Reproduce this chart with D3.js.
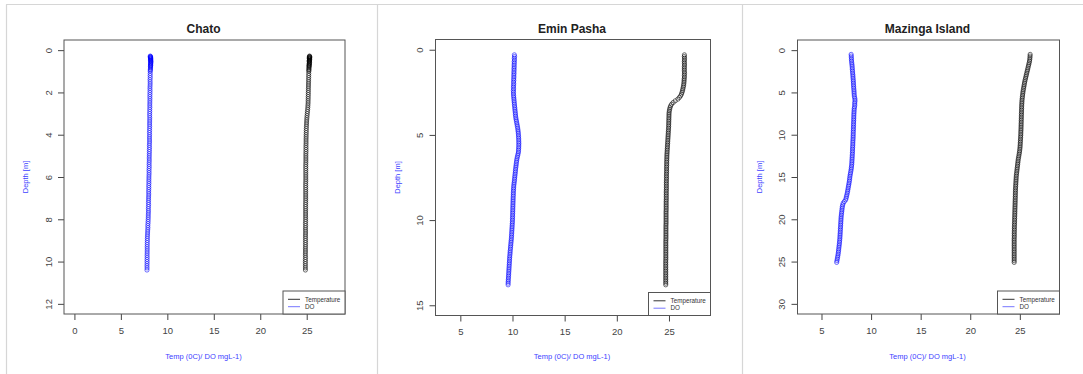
<!DOCTYPE html>
<html>
<head>
<meta charset="utf-8">
<script src="https://cdn.jsdelivr.net/npm/d3@7"></script>
<style>
  html, body { margin: 0; padding: 0; background: #fff; }
  svg { display: block; font-family: "Liberation Sans", Arial, sans-serif; }
</style>
</head>
<body>
<svg id="chart" width="1083" height="374"></svg>
<script>
// ---------------- DATA ----------------
const siteNames = ["Chato", "Emin Pasha", "Mazinga Island"];
const seriesNames = ["Temperature", "DO"];
const xLabel = "Temp (0C)/ DO mgL-1)";
const yLabel = "Depth [m]";

const chatoXTicks = [0, 5, 10, 15, 20, 25];
const chatoYTicks = [0, 2, 4, 6, 8, 10, 12];
const eminXTicks = [5, 10, 15, 20, 25];
const eminYTicks = [0, 5, 10, 15];
const mazingaXTicks = [5, 10, 15, 20, 25];
const mazingaYTicks = [0, 5, 10, 15, 20, 25, 30];

const chatoDepth = [0.28,0.3,0.32,0.34,0.36,0.38,0.4,0.42,0.45,0.48,0.5,0.53,0.56,0.6,0.63,0.66,0.7,0.73,0.76,0.8,0.85,0.9,0.95,1.0,
1.1,1.2,1.3,1.4,1.5,1.6,1.7,1.8,1.9,2.0,
2.1,2.2,2.3,2.4,2.5,2.6,2.7,2.8,2.9,3.0,
3.1,3.2,3.3,3.4,3.5,3.6,3.7,3.8,3.9,4.0,
4.1,4.2,4.3,4.4,4.5,4.6,4.7,4.8,4.9,5.0,
5.1,5.2,5.3,5.4,5.5,5.6,5.7,5.8,5.9,6.0,
6.1,6.2,6.3,6.4,6.5,6.6,6.7,6.8,6.9,7.0,
7.1,7.2,7.3,7.4,7.5,7.6,7.7,7.8,7.9,8.0,
8.1,8.2,8.3,8.4,8.5,8.6,8.7,8.8,8.9,9.0,
9.1,9.2,9.3,9.4,9.5,9.6,9.7,9.8,9.9,10.0,
10.1,10.2,10.3,10.4];
const chatoDO = [8.16,8.18,8.2,8.17,8.21,8.19,8.22,8.18,8.2,8.23,8.19,8.21,8.24,8.2,8.22,8.19,8.21,8.2,8.18,8.2,8.19,8.17,8.18,8.16,
8.16,8.15,8.16,8.14,8.15,8.15,8.14,8.13,8.14,8.13,
8.13,8.12,8.13,8.12,8.12,8.11,8.12,8.11,8.11,8.1,
8.1,8.11,8.1,8.1,8.09,8.1,8.09,8.09,8.08,8.09,
8.08,8.08,8.09,8.08,8.07,8.08,8.07,8.07,8.06,8.06,
8.05,8.06,8.05,8.04,8.05,8.04,8.03,8.04,8.03,8.02,
8.02,8.01,8.02,8.0,8.01,8.0,7.99,8.0,7.99,7.98,
7.98,7.97,7.98,7.97,7.96,7.97,7.96,7.95,7.95,7.94,
7.93,7.92,7.9,7.91,7.89,7.88,7.87,7.86,7.85,7.85,
7.84,7.84,7.83,7.84,7.83,7.83,7.82,7.83,7.82,7.82,
7.82,7.81,7.82,7.81];
const chatoTemp = [25.3,25.32,25.28,25.33,25.3,25.27,25.31,25.29,25.32,25.28,25.3,25.26,25.29,25.31,25.27,25.28,25.25,25.27,25.26,25.24,25.25,25.23,25.24,25.22,
25.22,25.21,25.21,25.2,25.2,25.19,25.19,25.18,25.18,25.17,
25.17,25.16,25.16,25.15,25.15,25.13,25.12,25.1,25.08,25.06,
25.04,25.02,25.0,24.99,24.98,24.97,24.96,24.95,24.95,24.94,
24.94,24.93,24.93,24.93,24.92,24.92,24.92,24.92,24.91,24.91,
24.91,24.91,24.91,24.9,24.9,24.9,24.9,24.9,24.9,24.9,
24.9,24.9,24.89,24.89,24.89,24.89,24.89,24.89,24.89,24.89,
24.89,24.89,24.88,24.88,24.88,24.88,24.88,24.88,24.88,24.88,
24.88,24.87,24.88,24.87,24.87,24.88,24.87,24.87,24.87,24.87,
24.87,24.87,24.87,24.86,24.87,24.86,24.86,24.87,24.86,24.86,
24.86,24.86,24.86,24.86];

const eminDepth = [0.3,0.4,0.5,0.6,0.7,0.8,0.9,1.0,
1.1,1.2,1.3,1.4,1.5,1.6,1.7,1.8,1.9,2.0,
2.1,2.2,2.3,2.4,2.5,2.6,2.7,2.8,2.9,3.0,
3.1,3.2,3.3,3.4,3.5,3.6,3.7,3.8,3.9,4.0,
4.1,4.2,4.3,4.4,4.5,4.6,4.7,4.8,4.9,5.0,
5.1,5.2,5.3,5.4,5.5,5.6,5.7,5.8,5.9,6.0,
6.1,6.2,6.3,6.4,6.5,6.6,6.7,6.8,6.9,7.0,
7.1,7.2,7.3,7.4,7.5,7.6,7.7,7.8,7.9,8.0,
8.1,8.2,8.3,8.4,8.5,8.6,8.7,8.8,8.9,9.0,
9.1,9.2,9.3,9.4,9.5,9.6,9.7,9.8,9.9,10.0,
10.1,10.2,10.3,10.4,10.5,10.6,10.7,10.8,10.9,11.0,
11.1,11.2,11.3,11.4,11.5,11.6,11.7,11.8,11.9,12.0,
12.1,12.2,12.3,12.4,12.5,12.6,12.7,12.8,12.9,13.0,
13.1,13.2,13.3,13.4,13.5,13.6,13.7,13.8];
const eminDO = [10.18,10.2,10.17,10.19,10.16,10.18,10.15,10.17,
10.14,10.16,10.13,10.15,10.12,10.14,10.11,10.13,10.1,10.12,
10.1,10.09,10.11,10.08,10.1,10.09,10.11,10.12,10.14,10.15,
10.17,10.18,10.2,10.22,10.23,10.25,10.27,10.28,10.3,10.32,
10.35,10.38,10.41,10.44,10.47,10.5,10.52,10.54,10.56,10.57,
10.58,10.59,10.6,10.6,10.61,10.6,10.6,10.59,10.58,10.57,
10.54,10.5,10.46,10.43,10.4,10.38,10.36,10.34,10.32,10.3,
10.28,10.27,10.25,10.23,10.21,10.2,10.18,10.16,10.14,10.12,
10.11,10.1,10.09,10.08,10.08,10.07,10.06,10.06,10.05,10.05,
10.04,10.04,10.03,10.03,10.02,10.02,10.01,10.01,10.0,10.0,
9.99,9.98,9.97,9.96,9.95,9.94,9.93,9.92,9.91,9.9,
9.89,9.87,9.86,9.84,9.83,9.81,9.8,9.78,9.77,9.76,
9.74,9.73,9.72,9.71,9.7,9.69,9.68,9.67,9.66,9.65,
9.64,9.63,9.62,9.61,9.6,9.59,9.58,9.58];
const eminTemp = [26.48,26.47,26.49,26.48,26.47,26.48,26.49,26.47,
26.48,26.47,26.48,26.49,26.47,26.48,26.46,26.45,26.44,26.42,
26.4,26.37,26.33,26.3,26.25,26.2,26.12,26.0,25.85,25.6,
25.4,25.25,25.15,25.1,25.06,25.03,25.01,25.0,25.0,24.99,
24.99,24.98,24.98,24.97,24.97,24.96,24.95,24.94,24.93,24.92,
24.91,24.9,24.89,24.88,24.87,24.86,24.85,24.84,24.83,24.82,
24.81,24.8,24.8,24.79,24.79,24.78,24.78,24.78,24.77,24.77,
24.77,24.77,24.76,24.76,24.76,24.76,24.75,24.75,24.75,24.75,
24.75,24.75,24.74,24.74,24.74,24.74,24.74,24.74,24.73,24.73,
24.73,24.73,24.73,24.73,24.72,24.72,24.72,24.72,24.72,24.72,
24.72,24.72,24.71,24.71,24.71,24.71,24.71,24.71,24.71,24.71,
24.71,24.7,24.7,24.7,24.7,24.7,24.7,24.7,24.7,24.7,
24.7,24.7,24.7,24.69,24.69,24.69,24.69,24.69,24.69,24.69,
24.69,24.69,24.69,24.69,24.69,24.69,24.69,24.69];

const mazingaDepth = [0.5,0.7,0.9,1.1,1.3, 1.5,1.7,1.9,2.1,2.3, 2.5,2.7,2.9,3.1,3.3, 3.5,3.7,3.9,4.1,4.3,
4.5,4.7,4.9,5.1,5.3, 5.5,5.7,5.9,6.1,6.3, 6.5,6.7,6.9,7.1,7.3, 7.5,7.7,7.9,8.1,8.3,
8.5,8.7,8.9,9.1,9.3, 9.5,9.7,9.9,10.1,10.3, 10.5,10.7,10.9,11.1,11.3, 11.5,11.7,11.9,12.1,12.3,
12.5,12.7,12.9,13.1,13.3, 13.5,13.7,13.9,14.1,14.3, 14.5,14.7,14.9,15.1,15.3, 15.5,15.7,15.9,16.1,16.3,
16.5,16.7,16.9,17.1,17.3, 17.5,17.7,17.9,18.1,18.3, 18.5,18.7,18.9,19.1,19.3, 19.5,19.7,19.9,20.1,20.3,
20.5,20.7,20.9,21.1,21.3, 21.5,21.7,21.9,22.1,22.3, 22.5,22.7,22.9,23.1,23.3, 23.5,23.7,23.9,24.1,24.3,
24.5,24.7,24.9,25.1];
const mazingaDO = [7.99,8.0,8.01,8.02,8.03, 8.05,8.07,8.09,8.1,8.11, 8.13,8.14,8.16,8.17,8.18, 8.2,8.21,8.22,8.23,8.24,
8.25,8.27,8.28,8.29,8.3, 8.32,8.36,8.38,8.37,8.34, 8.36,8.33,8.3,8.29,8.28, 8.27,8.26,8.26,8.25,8.25,
8.24,8.23,8.23,8.22,8.22, 8.21,8.2,8.2,8.19,8.19, 8.18,8.17,8.16,8.16,8.15, 8.14,8.13,8.13,8.12,8.11,
8.1,8.09,8.08,8.07,8.06, 8.05,8.03,8.01,7.99,7.96, 7.93,7.9,7.87,7.85,7.83, 7.81,7.78,7.75,7.72,7.69,
7.66,7.63,7.6,7.56,7.52, 7.48,7.44,7.3,7.18,7.14, 7.1,7.08,7.06,7.04,7.02, 7.0,6.98,6.97,6.96,6.95,
6.94,6.93,6.92,6.91,6.9, 6.89,6.88,6.87,6.86,6.85, 6.83,6.82,6.8,6.78,6.76, 6.74,6.72,6.7,6.68,6.65,
6.62,6.59,6.56,6.53];
const mazingaTemp = [26.04,26.03,26.02,26.0,25.98, 25.94,25.9,25.86,25.82,25.78, 25.74,25.7,25.66,25.62,25.58, 25.54,25.5,25.47,25.44,25.41,
25.38,25.35,25.32,25.3,25.28, 25.26,25.24,25.22,25.21,25.2, 25.19,25.18,25.18,25.17,25.17, 25.16,25.16,25.15,25.15,25.14,
25.14,25.13,25.13,25.12,25.12, 25.11,25.1,25.1,25.09,25.08, 25.07,25.06,25.05,25.04,25.03, 25.02,25.0,24.98,24.96,24.93,
24.9,24.87,24.84,24.82,24.8, 24.78,24.76,24.74,24.72,24.7, 24.68,24.66,24.64,24.63,24.62, 24.61,24.6,24.59,24.58,24.57,
24.56,24.56,24.55,24.55,24.54, 24.54,24.53,24.53,24.52,24.52, 24.51,24.51,24.5,24.5,24.49, 24.49,24.48,24.48,24.47,24.47,
24.46,24.46,24.45,24.45,24.45, 24.44,24.44,24.44,24.44,24.43, 24.43,24.43,24.43,24.43,24.43, 24.43,24.43,24.43,24.43,24.43,
24.43,24.43,24.43,24.43];

// ---------------- LAYOUT ----------------
const panels = [
  { title: siteNames[0], depth: chatoDepth, temp: chatoTemp, dox: chatoDO,
    xTicks: chatoXTicks, yTicks: chatoYTicks,
    xDomain: [-1.12, 29.12], yDomain: [-0.48, 12.48],
    box: { l: 64, r: 345, t: 40, b: 314 }, frameX: 6 },
  { title: siteNames[1], depth: eminDepth, temp: eminTemp, dox: eminDO,
    xTicks: eminXTicks, yTicks: eminYTicks,
    xDomain: [2.62, 28.98], yDomain: [-0.6, 15.6],
    box: { l: 435.5, r: 710.5, t: 39.5, b: 315.5 }, frameX: 377 },
  { title: siteNames[2], depth: mazingaDepth, temp: mazingaTemp, dox: mazingaDO,
    xTicks: mazingaXTicks, yTicks: mazingaYTicks,
    xDomain: [2.58, 29.0], yDomain: [-1.2, 31.2],
    box: { l: 797.5, r: 1059.5, t: 40, b: 314 }, frameX: 742 }
];

const colors = { Temperature: "#000000", DO: "#0000ff" };
const labelBlue = "#4040ff";

const svg = d3.select("#chart");

// light frames of the three screenshot panels
const frame = svg.append("g").attr("stroke", "#d6d6d6").attr("stroke-width", 1.2).attr("fill", "none");
frame.append("line").attr("x1", 6).attr("x2", 1083).attr("y1", 4.5).attr("y2", 4.5);
panels.forEach(p => {
  frame.append("line").attr("x1", p.frameX + 0.5).attr("x2", p.frameX + 0.5).attr("y1", 4.5).attr("y2", 374);
});

panels.forEach(p => {
  const g = svg.append("g");
  const x = d3.scaleLinear().domain(p.xDomain).range([p.box.l, p.box.r]);
  const y = d3.scaleLinear().domain(p.yDomain).range([p.box.t, p.box.b]);

  const tempPts = p.depth.map((d, i) => ({ d, v: p.temp[i] }));
  const doPts = p.depth.map((d, i) => ({ d, v: p.dox[i] }));

  g.append("g").selectAll("circle").data(tempPts).join("circle")
    .attr("cx", d => x(d.v)).attr("cy", d => y(d.d)).attr("r", 2.1)
    .attr("fill", "none").attr("stroke", colors.Temperature).attr("stroke-width", 0.75)
    .attr("stroke-opacity", 0.75);
  g.append("g").selectAll("circle").data(doPts).join("circle")
    .attr("cx", d => x(d.v)).attr("cy", d => y(d.d)).attr("r", 2.1)
    .attr("fill", "none").attr("stroke", colors.DO).attr("stroke-width", 0.75)
    .attr("stroke-opacity", 0.75);

  // axes
  const xAxis = g.append("g").attr("transform", `translate(0,${p.box.b})`)
    .call(d3.axisBottom(x).tickValues(p.xTicks).tickSize(6).tickPadding(7).tickFormat(d3.format("d")));
  xAxis.select(".domain").remove();
  xAxis.selectAll("line").attr("stroke", "#444");
  xAxis.selectAll("text").attr("font-size", "9.5px").attr("fill", "#444")
    .attr("font-family", "Liberation Sans, Arial, sans-serif");

  const yAxis = g.append("g").attr("transform", `translate(${p.box.l},0)`)
    .call(d3.axisLeft(y).tickValues(p.yTicks).tickSize(6).tickFormat(d3.format("d")));
  yAxis.select(".domain").remove();
  yAxis.selectAll("line").attr("stroke", "#444");
  yAxis.selectAll("text")
    .attr("x", null).attr("dy", null)
    .attr("transform", "translate(-12.5,0) rotate(-90)")
    .attr("text-anchor", "middle")
    .attr("font-size", "9.5px").attr("fill", "#444")
    .attr("font-family", "Liberation Sans, Arial, sans-serif");

  // box
  g.append("rect").attr("x", p.box.l).attr("y", p.box.t)
    .attr("width", p.box.r - p.box.l).attr("height", p.box.b - p.box.t)
    .attr("fill", "none").attr("stroke", "#555").attr("stroke-width", 1);

  // title
  g.append("text").attr("x", (p.box.l + p.box.r) / 2 - 1).attr("y", 33)
    .attr("text-anchor", "middle").attr("font-weight", "bold").attr("font-size", "12px")
    .attr("fill", "#222").text(p.title);

  // axis labels
  g.append("text").attr("x", (p.box.l + p.box.r) / 2 - 1).attr("y", 359)
    .attr("text-anchor", "middle").attr("font-size", "7.5px").attr("fill", labelBlue).text(xLabel);
  const ly = (p.box.t + p.box.b) / 2;
  g.append("text").attr("transform", `translate(${p.box.l - 36},${ly}) rotate(-90)`)
    .attr("text-anchor", "middle").attr("font-size", "7.5px").attr("fill", labelBlue).text(yLabel);

  // legend (bottom-right)
  const lw = 62, lh = 23;
  const lx = p.box.r - lw, lyTop = p.box.b - lh;
  const leg = g.append("g");
  leg.append("rect").attr("x", lx).attr("y", lyTop).attr("width", lw).attr("height", lh)
    .attr("fill", "#fff").attr("stroke", "#555").attr("stroke-width", 1);
  seriesNames.forEach((s, i) => {
    const yy = lyTop + 8.3 + i * 7.4;
    leg.append("line").attr("x1", lx + 5).attr("x2", lx + 17).attr("y1", yy).attr("y2", yy)
      .attr("stroke", s === "DO" ? "#7777ff" : "#333").attr("stroke-width", 1);
    leg.append("text").attr("x", lx + 22).attr("y", yy + 2.2)
      .attr("font-size", "6.3px").attr("fill", "#333").text(s);
  });
});
</script>
</body>
</html>
